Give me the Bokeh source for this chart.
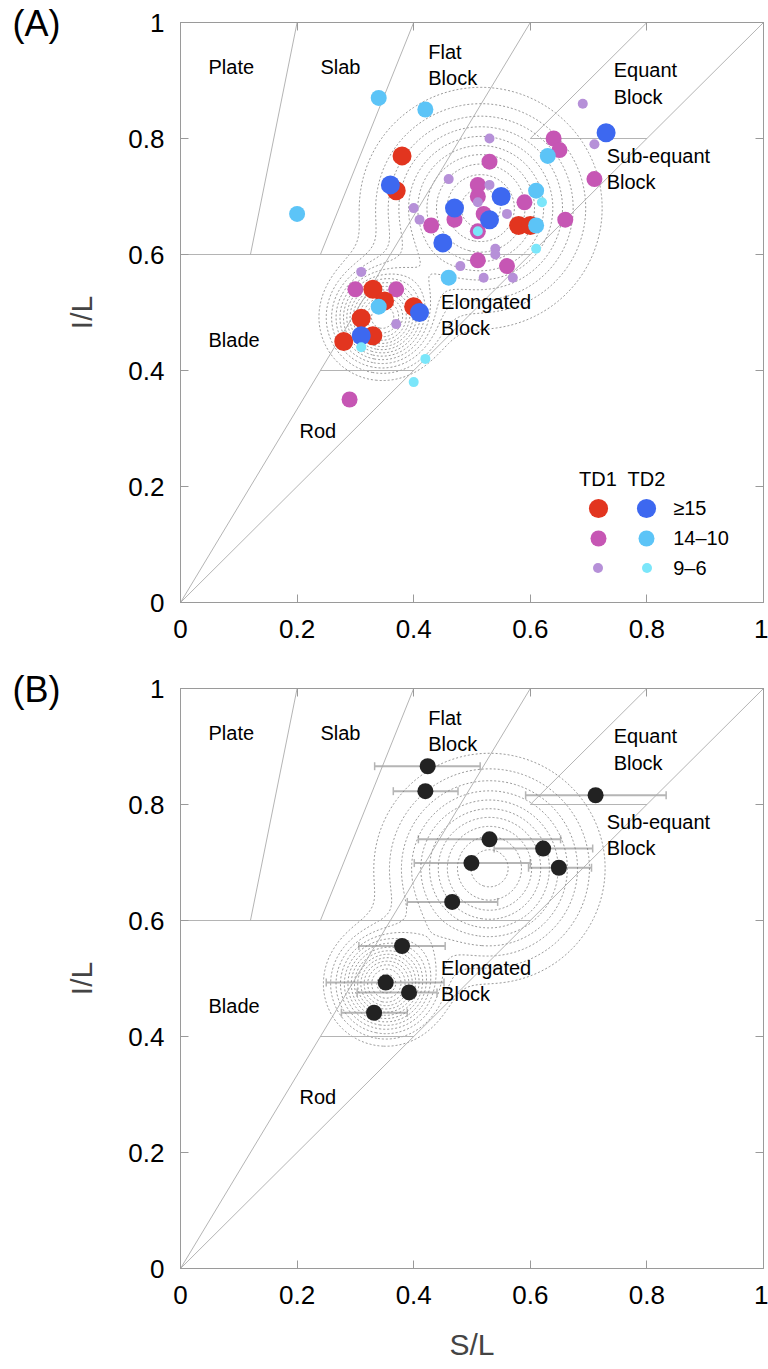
import numpy as np
from bokeh.plotting import figure
from bokeh.layouts import column
from bokeh.models import (FixedTicker, ColumnDataSource, Label, Legend, LegendItem,
                          Whisker, TeeHead, Range1d, LinearAxis, Title)
from bokeh.core.properties import value
from bokeh.embed import file_html
from bokeh.resources import INLINE

FONT = "Liberation Sans"

# ---------------- data ----------------
tick_values = [0, 0.2, 0.4, 0.6, 0.8, 1]
tick_labels = ["0", "0.2", "0.4", "0.6", "0.8", "1"]

# form-diagram boundary segments (S/L, I/L)
bound_x0 = [0.0, 0.0, 0.12, 0.24, 0.6, 0.0, 0.24, 0.6]
bound_y0 = [0.0, 0.0, 0.6, 0.6, 0.8, 0.6, 0.4, 0.8]
bound_x1 = [1.0, 0.6, 0.2, 0.4, 0.8, 0.6, 0.4, 0.8]
bound_y1 = [1.0, 1.0, 1.0, 1.0, 1.0, 0.6, 0.4, 0.8]

region_names = ["Plate", "Slab", "Flat\nBlock", "Equant\nBlock", "Sub-equant\nBlock",
                "Elongated\nBlock", "Blade", "Rod"]
region_x = [0.048, 0.240, 0.425, 0.743, 0.731, 0.447, 0.048, 0.204]
region_y = [0.923, 0.923, 0.927, 0.895, 0.747, 0.496, 0.453, 0.296]

# Panel A - TD1
td1_big_x = [0.38, 0.37, 0.58, 0.60, 0.33, 0.35, 0.40, 0.31, 0.33, 0.28]
td1_big_y = [0.77, 0.71, 0.65, 0.65, 0.54, 0.52, 0.51, 0.49, 0.46, 0.45]
td1_mid_x = [0.53, 0.51, 0.51, 0.52, 0.47, 0.43, 0.59, 0.51, 0.66, 0.71, 0.51, 0.56, 0.64, 0.65, 0.30, 0.37, 0.29]
td1_mid_y = [0.76, 0.72, 0.70, 0.67, 0.66, 0.65, 0.69, 0.64, 0.66, 0.73, 0.59, 0.58, 0.80, 0.78, 0.54, 0.54, 0.35]
td1_small_x = [0.69, 0.71, 0.53, 0.53, 0.51, 0.56, 0.54, 0.54, 0.46, 0.40, 0.41, 0.48, 0.52, 0.57, 0.37, 0.31]
td1_small_y = [0.86, 0.79, 0.80, 0.72, 0.69, 0.67, 0.61, 0.60, 0.73, 0.68, 0.66, 0.58, 0.56, 0.56, 0.48, 0.57]
# Panel A - TD2
td2_big_x = [0.36, 0.47, 0.45, 0.73, 0.55, 0.53, 0.41, 0.31]
td2_big_y = [0.72, 0.68, 0.62, 0.81, 0.70, 0.66, 0.50, 0.46]
td2_mid_x = [0.34, 0.42, 0.20, 0.63, 0.61, 0.61, 0.46, 0.34]
td2_mid_y = [0.87, 0.85, 0.67, 0.77, 0.71, 0.65, 0.56, 0.51]
td2_small_x = [0.62, 0.61, 0.51, 0.31, 0.42, 0.40]
td2_small_y = [0.69, 0.61, 0.64, 0.44, 0.42, 0.38]

size_labels = ["\u226515", "14\u201310", "9\u20136"]

# Panel B - means with horizontal error bars
b_x = [0.424, 0.420, 0.712, 0.530, 0.622, 0.499, 0.649, 0.466, 0.380, 0.352, 0.392, 0.332]
b_y = [0.866, 0.823, 0.816, 0.740, 0.724, 0.699, 0.691, 0.632, 0.556, 0.493, 0.476, 0.441]
b_xlo = [0.333, 0.365, 0.592, 0.408, 0.538, 0.401, 0.597, 0.389, 0.306, 0.250, 0.303, 0.276]
b_xhi = [0.514, 0.476, 0.833, 0.652, 0.707, 0.600, 0.705, 0.544, 0.454, 0.452, 0.440, 0.389]

# two-component density (centres, spreads, peak heights) for the contour rings
dens_A_cx = [0.515, 0.345]
dens_A_cy = [0.680, 0.490]
dens_A_s = [0.105, 0.050]
dens_A_h = [1.00, 1.35]
dens_B_cx = [0.530, 0.352]
dens_B_cy = [0.690, 0.490]
dens_B_s = [0.100, 0.050]
dens_B_h = [1.00, 1.35]
contour_levels = [0.14, 0.23, 0.32, 0.41, 0.50, 0.59, 0.68, 0.77, 0.86, 0.95,
                  1.04, 1.13, 1.22, 1.31]

# ---------------- styling ----------------
C_RED, C_MAG, C_LAV = "#E2351F", "#C656B4", "#B690D8"
C_BLUE, C_LBLUE, C_CYAN = "#3D68F0", "#5CC4F7", "#7BE6FA"
GRAY = "#9a9a9a"


def style_axis(ax, labels=True):
    ax.ticker = FixedTicker(ticks=tick_values)
    ax.major_tick_in = 8
    ax.major_tick_out = 0
    ax.minor_tick_in = 0
    ax.minor_tick_out = 0
    ax.axis_line_color = GRAY
    ax.major_tick_line_color = GRAY
    ax.major_label_text_font = FONT
    ax.major_label_text_color = "black"
    if labels:
        ax.major_label_overrides = {v: t for v, t in zip(tick_values, tick_labels)}
        ax.major_label_text_font_size = "26px"
    else:
        ax.major_label_overrides = {v: "" for v in tick_values}
        ax.major_label_text_font_size = "0px"
        ax.major_label_standoff = 0


def make_panel(height, bottom, letter, xlabel, dens):
    p = figure(width=768, height=height, x_range=Range1d(0, 1), y_range=Range1d(0, 1),
               output_backend="svg", toolbar_location=None,
               min_border_left=180, min_border_right=5, min_border_top=22,
               min_border_bottom=bottom)
    p.xgrid.visible = False
    p.ygrid.visible = False
    p.outline_line_color = GRAY
    p.background_fill_color = "white"
    p.border_fill_color = "white"
    p.add_layout(LinearAxis(), "above")
    p.add_layout(LinearAxis(), "right")
    # panel letter: title next to the frame, pulled down over the top-left corner
    p.add_layout(Title(text=letter, text_font=FONT, text_font_size="36px",
                       text_font_style="normal", text_color="black", align="left",
                       vertical_align="bottom", offset=-168, standoff=-42), "above")
    # blank spacer title on the outside
    p.add_layout(Title(text=" ", text_font=FONT, text_font_size="10px", standoff=8), "above")
    style_axis(p.below[0])
    style_axis(p.left[0])
    style_axis(p.above[0], labels=False)
    style_axis(p.right[0], labels=False)
    p.below[0].major_label_standoff = 17
    p.left[0].major_label_standoff = 16
    p.left[0].axis_label = "I/L"
    p.left[0].axis_label_text_font = FONT
    p.left[0].axis_label_text_font_size = "30px"
    p.left[0].axis_label_text_font_style = "normal"
    p.left[0].axis_label_standoff = 27
    if xlabel:
        p.below[0].axis_label = xlabel
        p.below[0].axis_label_text_font = FONT
        p.below[0].axis_label_text_font_size = "30px"
        p.below[0].axis_label_text_font_style = "normal"
        p.below[0].axis_label_standoff = 21

    # density contours
    cx, cy, s, h = dens
    grid = np.linspace(0, 1, 301)
    X, Y = np.meshgrid(grid, grid)
    Z = np.zeros_like(X)
    for a, b, sg, hh in zip(cx, cy, s, h):
        Z += hh * np.exp(-((X - a) ** 2 + (Y - b) ** 2) / (2 * sg * sg))
    p.contour(grid, grid, Z, contour_levels, line_color="#7d7d7d",
              line_width=0.8, line_dash="2 2")

    # boundaries
    p.segment(x0=bound_x0, y0=bound_y0, x1=bound_x1, y1=bound_y1,
              line_color="#ababab", line_width=0.9)

    src = ColumnDataSource(dict(x=region_x, y=region_y, t=region_names))
    p.text(x="x", y="y", text="t", source=src, text_font=value(FONT),
           text_font_size="20px", text_baseline="middle", text_align="left",
           text_line_height=1.2, text_color="black")
    return p


# ---------------- panel A ----------------
pA = make_panel(666, 64, "(A)", None, (dens_A_cx, dens_A_cy, dens_A_s, dens_A_h))
r_mag = pA.scatter(td1_mid_x, td1_mid_y, size=16, color=C_MAG, line_color=None)
r_red = pA.scatter(td1_big_x, td1_big_y, size=19, color=C_RED, line_color=None)
r_lav = pA.scatter(td1_small_x, td1_small_y, size=10, color=C_LAV, line_color=None)
r_lbl = pA.scatter(td2_mid_x, td2_mid_y, size=16, color=C_LBLUE, line_color=None)
r_blu = pA.scatter(td2_big_x, td2_big_y, size=19, color=C_BLUE, line_color=None)
r_cyn = pA.scatter(td2_small_x, td2_small_y, size=10, color=C_CYAN, line_color=None)

# legend: keys in screen space, relative to the plot frame
col_x = [417.5, 466.0]
row_y = [94.5, 64.5, 34.7]
key_box = [48, 40, 25]
legend_sets = [[r_red, r_mag, r_lav], [r_blu, r_lbl, r_cyn]]
for ci, rs in enumerate(legend_sets):
    for ri, r in enumerate(rs):
        bx = key_box[ri]
        leg = Legend(items=[LegendItem(label=" ", renderers=[r])],
                     location=(col_x[ci] - bx / 2, row_y[ri] - bx / 2),
                     glyph_width=bx, glyph_height=bx, padding=0, margin=0, spacing=0,
                     label_standoff=0, label_width=0, label_height=0,
                     label_text_font_size="1px", border_line_color=None,
                     background_fill_alpha=0)
        pA.add_layout(leg)
for ci, t in enumerate(["TD1", "TD2"]):
    pA.add_layout(Label(x=col_x[ci], y=124, x_units="screen", y_units="screen", text=t,
                        text_font=FONT, text_font_size="20px", text_align="center",
                        text_baseline="middle", text_color="black"))
for ri, t in enumerate(size_labels):
    pA.add_layout(Label(x=492.7, y=row_y[ri], x_units="screen", y_units="screen", text=t,
                        text_font=FONT, text_font_size="20px", text_align="left",
                        text_baseline="middle", text_color="black"))

# ---------------- panel B ----------------
pB = make_panel(703, 101, "(B)", "S/L", (dens_B_cx, dens_B_cy, dens_B_s, dens_B_h))
srcB = ColumnDataSource(dict(x=b_x, y=b_y, lo=b_xlo, hi=b_xhi))
wk = Whisker(source=srcB, base="y", lower="lo", upper="hi", dimension="width",
             line_color="#b5b5b5", line_width=2)
wk.upper_head = TeeHead(size=8, line_color="#b5b5b5", line_width=1.5)
wk.lower_head = TeeHead(size=8, line_color="#b5b5b5", line_width=1.5)
pB.add_layout(wk)
pB.scatter("x", "y", source=srcB, size=16, color="#222222", line_color=None)

layout = column(pA, pB, spacing=0)
html = file_html(layout, INLINE)
with open("out.html", "w") as f:
    f.write(html)
